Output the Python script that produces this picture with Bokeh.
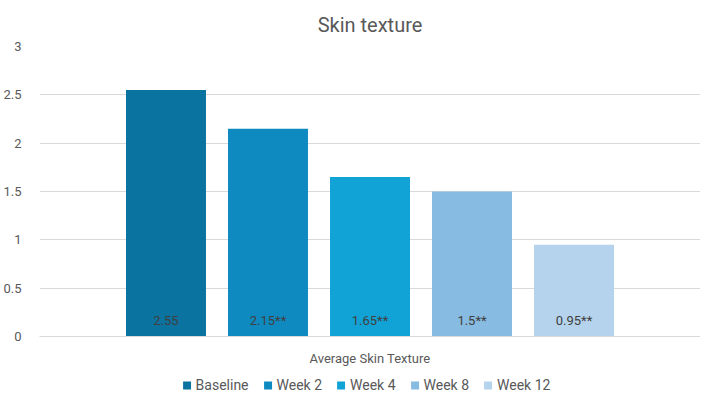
from bokeh.plotting import figure
from bokeh.layouts import column
from bokeh.models import FactorRange, Range1d, FixedTicker, Legend, LegendItem, ColumnDataSource
from bokeh.core.properties import value
from bokeh.embed import file_html
from bokeh.resources import INLINE

series = ["Baseline", "Week 2", "Week 4", "Week 8", "Week 12"]
values = [2.55, 2.15, 1.65, 1.5, 0.95]
marks = ["", "**", "**", "**", "**"]
colors = ["#0B73A0", "#0E8AC0", "#11A2D6", "#88BBE1", "#B5D3EC"]
y_ticks = [0, 0.5, 1, 1.5, 2, 2.5, 3]
y_tick_labels = ["0", "0.5", "1", "1.5", "2", "2.5", "3"]
group_label = "Average Skin Texture"
title = "Skin texture"

FONT = "Roboto"
TXT = "#595959"

labels = [f"{v:g}{m}" for v, m in zip(values, marks)]
src = ColumnDataSource(dict(x=series, top=values, color=colors, label=labels, base=[0] * len(series)))

p = figure(frame_width=661, frame_height=290, output_backend="svg", toolbar_location=None,
           x_range=FactorRange(factors=series, range_padding=0.296),
           y_range=Range1d(0, 3), title=title,
           min_border_left=32, min_border_right=0, min_border_top=0, min_border_bottom=0)
p.outline_line_color = None
p.background_fill_color = "white"

p.title.align = "center"
p.title.text_font = FONT
p.title.text_font_size = "20px"
p.title.text_font_style = "normal"
p.title.text_color = TXT
p.title.offset = 0
p.title.standoff = 20

for i, s in enumerate(series):
    p.vbar(x=[series[i]], top=[values[i]], width=0.784, fill_color=colors[i], line_color=None)

p.text(x="x", y="base", text="label", source=src, text_align="center", text_baseline="middle",
       y_offset=-16, text_font=value(FONT), text_font_size="13px", text_color="#404040")

# axes
p.yaxis.ticker = FixedTicker(ticks=y_ticks)
p.yaxis.major_label_overrides = {t: l for t, l in zip(y_ticks, y_tick_labels)}
p.yaxis.axis_line_color = None
p.yaxis.major_tick_line_color = None
p.yaxis.minor_tick_line_color = None
p.yaxis.major_label_text_font = FONT
p.yaxis.major_label_text_font_size = "13px"
p.yaxis.major_label_text_color = TXT
p.yaxis.major_label_standoff = 12

p.xaxis.axis_line_color = "#D9D9D9"
p.xaxis.major_tick_line_color = None
p.xaxis.minor_tick_line_color = None
p.xaxis.major_tick_out = 0
p.xaxis.major_label_text_font_size = "1px"
p.xaxis.major_label_text_alpha = 0
p.xaxis.major_label_standoff = 0
p.xaxis.axis_label = group_label
p.xaxis.axis_label_text_font = FONT
p.xaxis.axis_label_text_font_size = "13px"
p.xaxis.axis_label_text_font_style = "normal"
p.xaxis.axis_label_text_color = TXT
p.xaxis.axis_label_standoff = 14

p.xgrid.grid_line_color = None
p.ygrid.grid_line_color = "#D9D9D9"
p.ygrid.grid_line_width = 1

# legend strip (swatch renderers are zero-height, so only their legend glyphs show)
lg = figure(width=693, height=34, output_backend="svg", toolbar_location=None,
            x_range=Range1d(0, 1), y_range=Range1d(0, 1),
            min_border_left=0, min_border_right=0, min_border_top=0, min_border_bottom=0)
lg.outline_line_color = None
lg.axis.visible = False
lg.grid.visible = False
lg.background_fill_color = "white"
lg.border_fill_color = "white"
renderers = []
for i, s in enumerate(series):
    renderers.append(lg.vbar(x=[0.5], bottom=[0], top=[0], width=0.01,
                             fill_color=colors[i], line_color=None))
legend = Legend(items=[LegendItem(label=s, renderers=[r]) for s, r in zip(series, renderers)],
                orientation="horizontal", location="center",
                label_text_font=FONT, label_text_font_size="14px", label_text_color=TXT,
                glyph_width=10, glyph_height=10, spacing=14, label_standoff=4,
                label_height=14, border_line_color=None, background_fill_alpha=0,
                padding=0, margin=0)
lg.add_layout(legend, "center")

open("out.html", "w").write(file_html(column(p, lg, spacing=0), INLINE))
